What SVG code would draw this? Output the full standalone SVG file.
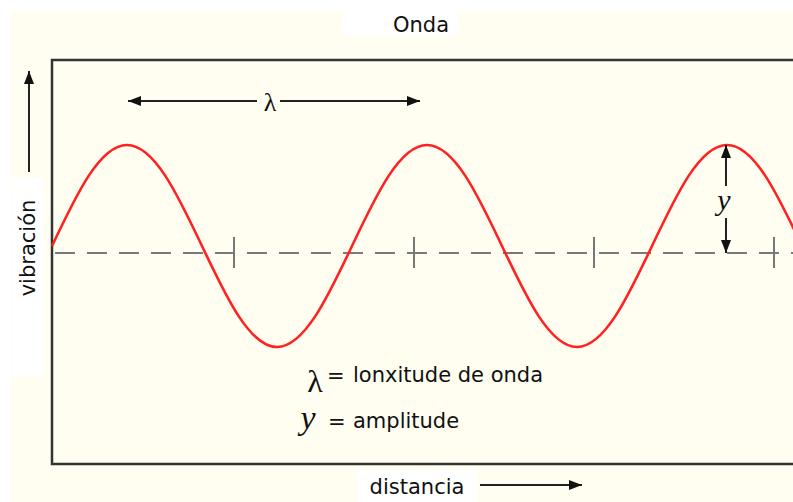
<svg xmlns="http://www.w3.org/2000/svg" width="793" height="502" viewBox="0 0 793 502">
  <defs>
    <marker id="arr" markerUnits="userSpaceOnUse" markerWidth="14" markerHeight="12" refX="13" refY="5" orient="auto">
      <path d="M0,0 L13,5 L0,10 z" fill="#111"/>
    </marker>
    <style>
      .lbl { font-family: "DejaVu Sans", Verdana, sans-serif; font-size: 21px; fill: #111; }
      .sym { font-family: "Liberation Serif", "Times New Roman", serif; fill: #111; }
      .axis { stroke: #222; stroke-width: 2; fill: none; }
      .tick { stroke: #777; stroke-width: 2; }
    </style>
  </defs>
  <rect x="0" y="0" width="793" height="502" fill="#ffffff"/>
  <rect x="11" y="12" width="782" height="490" fill="#fffef1"/>
  <g id="title">
    <rect x="342" y="10" width="116" height="26" fill="#ffffff"/>
    <text class="lbl" x="421" y="32" text-anchor="middle">Onda</text>
  </g>
  <g id="frame">
    <rect x="52" y="60" width="760" height="404" fill="none" stroke="#333" stroke-width="2.5"/>
  </g>
  <g id="baseline">
    <line x1="55" y1="253" x2="793" y2="253" stroke="#7a7a7a" stroke-width="2" stroke-dasharray="20 12"/>
    <line class="tick" x1="234" y1="237" x2="234" y2="268"/>
    <line class="tick" x1="414" y1="237" x2="414" y2="268"/>
    <line class="tick" x1="594" y1="237" x2="594" y2="268"/>
    <line class="tick" x1="774" y1="237" x2="774" y2="268"/>
  </g>
  <g id="wave">
    <path fill="none" stroke="#ff2222" stroke-width="2.6" d="M52,246 C76.46,194.26 99.86,145 127,145 C154.14,145 177.54,194.26 202,246 C226.46,297.74 249.86,347 277,347 C304.14,347 327.54,297.74 352,246 C376.46,194.26 399.86,145 427,145 C454.14,145 477.54,194.26 502,246 C526.46,297.74 549.86,347 577,347 C604.14,347 627.54,297.74 652,246 C676.46,194.26 699.86,145 727,145 C754.14,145 777.54,194.26 802,246"/>
  </g>
  <g id="connectors">
    <line class="axis" x1="257" y1="101" x2="128" y2="101" marker-end="url(#arr)"/>
    <line class="axis" x1="280" y1="101" x2="420" y2="101" marker-end="url(#arr)"/>
    <line class="axis" x1="726" y1="186" x2="726" y2="145" marker-end="url(#arr)"/>
    <line class="axis" x1="726" y1="218" x2="726" y2="253" marker-end="url(#arr)"/>
    <line class="axis" x1="29" y1="172" x2="29" y2="71" marker-end="url(#arr)"/>
    <line class="axis" x1="480" y1="485" x2="582" y2="485" marker-end="url(#arr)"/>
  </g>
  <g id="lambda-label">
    <text class="sym" x="270" y="111" font-size="26" text-anchor="middle">λ</text>
  </g>
  <g id="amplitude-label">
    <text class="sym" x="724" y="210" font-size="30" font-style="italic" text-anchor="middle">y</text>
  </g>
  <g id="y-axis-label">
    <rect x="12" y="178" width="32" height="199" fill="#ffffff"/>
    <text class="lbl" transform="translate(35,248) rotate(-90)" text-anchor="middle">vibración</text>
  </g>
  <g id="x-axis-label">
    <rect x="357" y="470" width="120" height="32" fill="#ffffff"/>
    <text class="lbl" x="417" y="494" text-anchor="middle">distancia</text>
  </g>
  <g id="legend">
    <text class="sym" x="315" y="392" font-size="32" text-anchor="middle">λ</text>
    <text class="lbl" x="327" y="383">=</text>
    <text class="lbl" x="353" y="382">lonxitude de onda</text>
    <text class="sym" x="308" y="429" font-size="34" font-style="italic" text-anchor="middle">y</text>
    <text class="lbl" x="328" y="429">=</text>
    <text class="lbl" x="353" y="428">amplitude</text>
  </g>
</svg>
